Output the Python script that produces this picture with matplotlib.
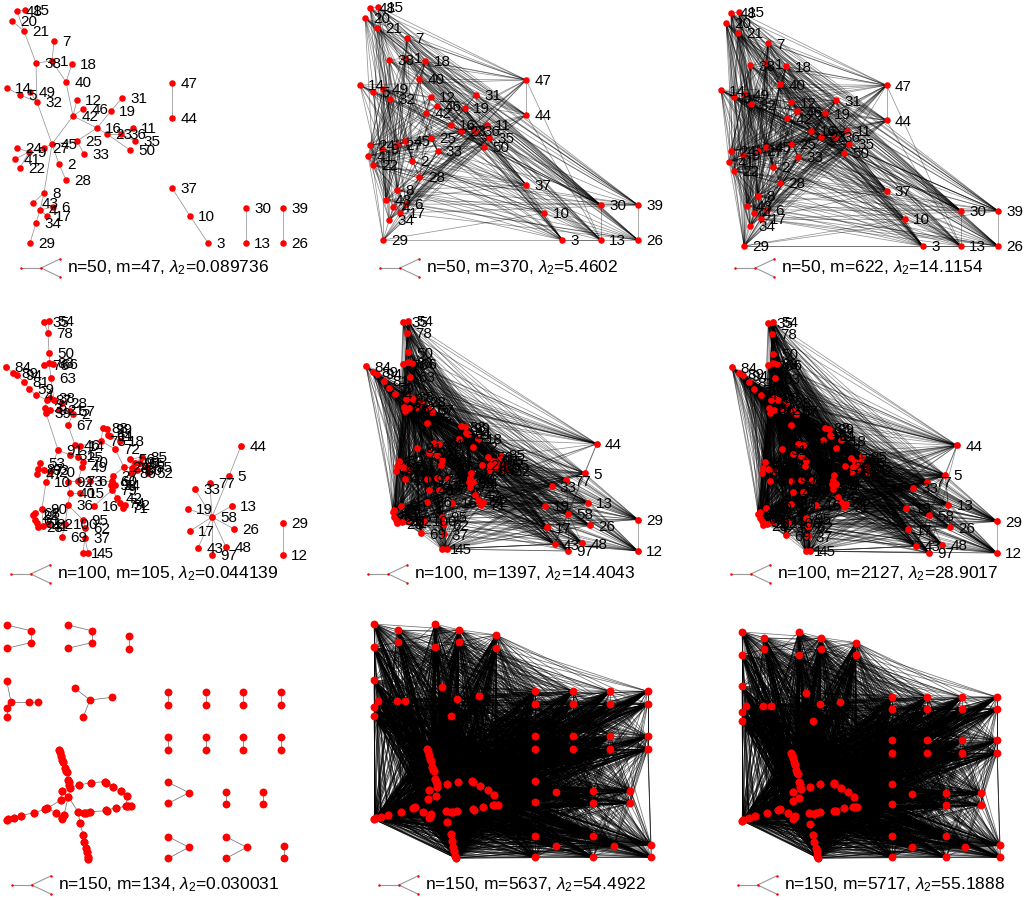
import numpy as np
import matplotlib
matplotlib.use("Agg")
import matplotlib.pyplot as plt
from matplotlib.collections import LineCollection
from matplotlib.lines import Line2D
from matplotlib.transforms import IdentityTransform

plt.rcParams['font.family'] = ['Liberation Sans', 'DejaVu Sans']
plt.rcParams['mathtext.fontset'] = 'custom'
plt.rcParams['mathtext.rm'] = 'Liberation Sans'
plt.rcParams['mathtext.it'] = 'Liberation Sans:italic'

FIG_W, FIG_H = 1024, 900

# ---------------- row 1 : n=50, layout (pixels)
r1_labels = [48, 15, 20, 21, 7, 38, 1, 18, 40, 14, 5, 49, 32, 12, 46, 42, 31, 19, 16, 11,
             23, 36, 35, 50, 25, 45, 27, 24, 9, 41, 22, 33, 2, 28, 8, 43, 4, 6, 17, 34,
             29, 47, 44, 37, 10, 3, 30, 13, 39, 26]
r1_x = [17, 25, 12, 24, 54, 36, 52, 72, 66, 7, 20, 30, 37, 77, 83, 73, 122, 111, 97, 133,
        107, 121, 135, 130, 77, 52, 44, 17, 29, 15, 20, 84, 59, 66, 44, 33, 40, 53, 47, 36,
        30, 172, 172, 172, 190, 208, 246, 246, 283, 283]
r1_y = [11, 10, 21, 31, 41, 63, 61, 64, 82, 88, 95, 92, 102, 100, 109, 116, 98, 111, 128, 128,
        134, 134, 141, 150, 141, 144, 148, 148, 152, 159, 168, 154, 164, 180, 193, 203, 210, 207, 216, 223,
        243, 83, 118, 188, 216, 243, 208, 243, 208, 243]
r1_edges = [(48, 21), (15, 48), (20, 21), (21, 38), (38, 32), (14, 5), (5, 32), (49, 32), (32, 45),
            (7, 1), (1, 40), (18, 40), (40, 42), (12, 42), (46, 42), (42, 45), (42, 16), (16, 19),
            (19, 31), (16, 23), (23, 36), (36, 11), (36, 35), (23, 50), (45, 25), (25, 33), (45, 2),
            (2, 28), (45, 27), (27, 9), (9, 24), (9, 41), (9, 22), (45, 8), (8, 43), (8, 4), (4, 6),
            (4, 17), (4, 34), (34, 29), (25, 16), (1, 38), (47, 44), (37, 10), (10, 3), (30, 13),
            (39, 26)]

# ---------------- row 2 : n=100
r2_labels = [35, 54, 78, 50, 76, 83, 66, 63,
             84, 89, 94, 81, 59, 4,
             8, 38, 7, 28, 3, 39, 9, 21, 57, 2,
             67,
             88, 99, 64, 11, 75, 18, 72,
             24, 56, 96, 85, 80, 30, 65, 55, 86, 52,
             27, 60, 98, 34, 79, 42, 74, 32, 71,
             16,
             91, 46, 14, 31, 25, 70, 49, 53, 87, 47, 93, 20, 10, 92, 73, 6, 40, 15,
             36, 90, 68, 22, 61, 51, 23, 41, 82, 100, 95, 62, 69, 37, 1, 45,
             58, 44, 5, 77, 33, 13, 26, 48, 97, 43, 17, 19, 29, 12]
r2_x = [44, 49, 48, 49, 44, 49, 53, 51,
        6, 13, 17, 24, 29, 36,
        47, 50, 54, 62, 45, 46, 50, 59, 70, 73,
        68,
        103, 107, 108, 110, 101, 120, 115,
        124, 130, 135, 142, 132, 137, 140, 147, 131, 148,
        113, 112, 111, 115, 112, 117, 120, 125, 123,
        94,
        58, 75, 80, 70, 78, 83, 82, 40, 38, 37, 44, 50, 46, 68, 78, 90, 70, 80,
        68, 42, 35, 33, 35, 37, 38, 43, 48, 65, 83, 85, 62, 85, 83, 88,
        212, 241, 229, 210, 195, 232, 234, 226, 212, 198, 190, 188, 283, 283]
r2_y = [322, 321, 333, 353, 365, 363, 364, 378,
        367, 373, 375, 382, 389, 395,
        400, 398, 400, 403, 408, 413, 410, 410, 411, 414,
        425,
        428, 429, 435, 436, 441, 441, 449,
        467, 459, 463, 457, 468, 470, 463, 467, 473, 473,
        476, 481, 485, 485, 490, 498, 503, 505, 508,
        506,
        450, 445, 446, 455, 457, 462, 467, 463, 469, 474, 470, 472, 482, 482, 481, 481, 493, 493,
        505, 509, 513, 515, 520, 523, 527, 526, 524, 524, 520, 528, 537, 538, 553, 553,
        517, 446, 476, 483, 489, 506, 529, 547, 555, 548, 531, 509, 523, 555]
r2_edges = [(35, 78), (54, 78), (78, 50), (50, 83), (76, 83), (66, 83), (83, 63), (63, 7),
            (84, 89), (89, 94), (94, 81), (81, 59), (59, 4), (4, 8),
            (8, 38), (38, 7), (7, 28), (8, 3), (3, 39), (3, 9), (28, 21), (21, 57), (57, 2),
            (2, 67), (67, 46), (39, 91),
            (14, 75), (75, 88), (88, 99), (99, 64), (64, 11), (11, 18), (75, 72), (72, 24),
            (24, 80), (80, 56), (56, 96), (96, 85), (96, 65), (65, 30), (65, 55), (30, 86),
            (55, 52), (24, 27),
            (27, 60), (60, 98), (98, 34), (34, 79), (79, 42), (42, 74), (74, 32), (32, 71), (16, 79),
            (91, 20), (20, 93), (93, 53), (53, 87), (87, 47), (20, 10), (91, 31), (31, 25),
            (25, 14), (14, 46), (25, 70), (70, 49), (49, 73), (73, 92), (73, 6), (92, 40),
            (40, 15), (6, 60),
            (10, 90), (90, 68), (68, 22), (22, 61), (61, 51), (51, 23), (90, 41), (41, 82),
            (40, 36), (36, 100), (100, 69), (36, 95), (95, 62), (62, 37), (37, 1), (37, 45),
            (9, 39), (85, 56), (86, 80), (34, 27), (71, 74), (23, 41),
            (44, 5), (5, 58), (77, 58), (33, 58), (19, 58), (17, 58), (43, 58), (97, 58),
            (48, 58), (26, 58), (13, 58), (29, 12)]

# ---------------- row 3 : n=150 (no labels)
r3_small_x = [6.7, 30.7, 30.7, 6.7, 67.7, 91.7, 91.7, 67.7, 129, 129,
              6.7, 11, 29.3, 37.7, 6.7, 6.7, 90, 75, 112, 83.3,
              168.3, 168.3, 205.7, 205.7, 243.3, 243.3, 280.7, 280.7,
              168.3, 168.3, 205.7, 205.7, 243.3, 243.3, 280.7, 280.7,
              168.3, 189, 168.3, 226, 226, 263.3, 263.3,
              168.3, 189, 168.3, 226, 246.7, 226, 284, 284]
r3_small_y = [625, 630.7, 642.7, 648.3, 625, 630.7, 642.7, 648.3, 636, 648.7,
              681, 701.7, 701.7, 701.7, 707.7, 716.7, 700, 688.3, 697.3, 716.7,
              692.3, 705, 692.3, 705, 692.3, 705, 692.3, 705,
              737.3, 750, 737.3, 750, 737.3, 750, 737.3, 750,
              782.3, 792.7, 803.3, 791.7, 804, 791.7, 804,
              836.7, 847.3, 858.3, 836.7, 847.3, 858.3, 846, 858.3]
r3_small_edges = [(0, 1), (1, 2), (2, 3), (4, 5), (5, 6), (6, 7), (8, 9),
                  (10, 11), (11, 12), (12, 13), (11, 14), (14, 15), (16, 17), (16, 18), (16, 19),
                  (20, 21), (22, 23), (24, 25), (26, 27), (28, 29), (30, 31), (32, 33), (34, 35),
                  (36, 37), (37, 38), (39, 40), (41, 42), (43, 44), (44, 45), (46, 47), (47, 48),
                  (49, 50)]
# big component: visible spots, and how many nodes sit on each spot
r3_big_x = [59.3, 60.3, 61.3, 62.3, 63.3, 65, 66, 66.7, 67.7, 68.7, 69.3, 70,
            68.3, 61.7, 61,
            79.3, 90.7, 105.3, 106, 113.3, 121, 127.3, 126, 128.3, 130.7, 116, 106, 107.3,
            90, 86, 84, 78.3,
            47.3, 45.3, 34, 20.7, 14, 8.3, 6.7,
            56, 64, 62.3, 61.7,
            80, 83.3, 84.3, 86, 87, 87.7, 88.3]
r3_big_y = [750, 752.3, 755.7, 760, 762.3, 768.3, 771, 772.3, 780, 782.3, 785, 787.7,
            796.7, 791, 800,
            785, 782.7, 781.7, 782.7, 786.7, 791, 796, 805.7, 806, 806, 807.7, 810.3, 810.7,
            811.7, 812.7, 813, 812.3,
            808.3, 809.3, 812.7, 815.7, 817.7, 819.3, 820.3,
            812.7, 815, 817.7, 818.7,
            823.3, 835, 842.3, 848.3, 851.7, 856.7, 859]
r3_big_mult = [2, 2, 2, 2, 2, 2, 2, 2, 2, 2, 2, 2,
               2, 2, 2,
               2, 2, 2, 2, 2, 2, 2, 2, 2, 2, 2, 2, 2,
               2, 2, 2, 2,
               2, 2, 2, 2, 2, 2, 2,
               2, 2, 2, 1,
               2, 2, 2, 2, 2, 2, 2]
r3_big_paths = [[0, 1, 2, 3, 4, 5, 6, 7, 8, 9, 10, 11],
                [11, 12],
                [11, 15, 16, 17, 18, 19, 20, 21, 22, 23, 24, 25, 26, 27, 28, 29, 30, 31, 12],
                [12, 13, 14, 32, 33, 34, 35, 36, 37, 38],
                [31, 43, 44, 45, 46, 47, 48, 49],
                [12, 40, 41, 42],
                [39, 32], [22, 24], [17, 19], [29, 31]]

# ---------------- captions
n_vals = [50, 100, 150]
m_vals = [[47, 370, 622], [105, 1397, 2127], [134, 5637, 5717]]
lam2_vals = [["0.089736", "5.4602", "14.1154"],
             ["0.044139", "14.4043", "28.9017"],
             ["0.030031", "54.4922", "55.1888"]]

# where the node extents sit in the figure (pixels: x0, x1, y0, y1); None = as read
panel_boxes = [[None, (360, 638, 7, 240), (721, 998, 12, 246)],
               [None, (366, 638, 321, 551), (732, 997, 322, 553)],
               [None, (374, 651, 624, 858), (742, 1000, 632, 858)]]
caption_y = [268, 574, 885]
node_size = [22, 24, 32]
edge_alpha = [0.42, 0.42, 0.55]


def labelled_graph(labels, xs, ys, edges):
    idx = {lab: k for k, lab in enumerate(labels)}
    e = [(idx[a], idx[b]) for a, b in edges]
    return np.array(xs, float), np.array(ys, float), [str(l) for l in labels], e


def row3_graph():
    xs = list(r3_small_x)
    ys = list(r3_small_y)
    edges = list(r3_small_edges)
    off = len(xs)
    xs += r3_big_x
    ys += r3_big_y
    for path in r3_big_paths:
        for a, b in zip(path[:-1], path[1:]):
            edges.append((off + a, off + b))
    # stacked nodes on the same spot hang on the first one
    for k, mult in enumerate(r3_big_mult):
        for _ in range(mult - 1):
            xs.append(r3_big_x[k])
            ys.append(r3_big_y[k])
            edges.append((off + k, len(xs) - 1))
    return np.array(xs, float), np.array(ys, float), None, edges


def add_edges_fiedler(n, edges, m_total, batch=20):
    # grow the graph by joining the pairs furthest apart on the Fiedler vector
    A = np.zeros((n, n))
    for i, j in edges:
        A[i, j] = A[j, i] = 1
    iu = np.triu_indices(n, 1)
    added = []
    need = m_total - len(edges)
    while len(added) < need:
        L = np.diag(A.sum(axis=1)) - A
        vals, vecs = np.linalg.eigh(L)
        f = vecs[:, 1]
        score = (f[:, None] - f[None, :]) ** 2
        score[A > 0] = -1.0
        s = score[iu]
        k = min(batch, need - len(added))
        for b in np.argsort(-s, kind='stable')[:k]:
            i, j = iu[0][b], iu[1][b]
            A[i, j] = A[j, i] = 1
            added.append((i, j))
    return added


graphs = [labelled_graph(r1_labels, r1_x, r1_y, r1_edges),
          labelled_graph(r2_labels, r2_x, r2_y, r2_edges),
          row3_graph()]

fig = plt.figure(figsize=(FIG_W / 100, FIG_H / 100), dpi=100)
renderer = fig.canvas.get_renderer()

for r, (x, y, labels, base_edges) in enumerate(graphs):
    n = len(x)
    extra = add_edges_fiedler(n, base_edges, max(m_vals[r]))
    x0l, x1l, y0l, y1l = x.min(), x.max(), y.min(), y.max()
    for c in range(3):
        m = m_vals[r][c]
        edges = (base_edges + extra)[:m]
        box = panel_boxes[r][c] or (x0l, x1l, y0l, y1l)
        bx0, bx1, by0, by1 = box
        ax = fig.add_axes([bx0 / FIG_W, 1 - by1 / FIG_H,
                           (bx1 - bx0) / FIG_W, (by1 - by0) / FIG_H])
        ax.set_xlim(x0l, x1l)
        ax.set_ylim(y1l, y0l)
        ax.axis('off')

        segs = [[(x[i], y[i]), (x[j], y[j])] for i, j in edges]
        ax.add_collection(LineCollection(segs, colors=[(0, 0, 0, edge_alpha[r])],
                                         linewidths=0.55, clip_on=False, zorder=1))
        ax.scatter(x, y, s=node_size[r], c='#ff0000', linewidths=0,
                   zorder=3, clip_on=False)
        if labels is not None:
            for xi, yi, lab in zip(x, y, labels):
                ax.annotate(lab, (xi, yi), xytext=(6, -1), textcoords='offset points',
                            fontsize=11, va='center', ha='left', zorder=4,
                            annotation_clip=False)

        # caption with the little tree glyph in front of it
        cx = (bx0 + bx1) / 2
        cy = caption_y[r]
        txt = f"n={n_vals[r]}, m={m}, $\\lambda_2$={lam2_vals[r][c]}"
        t = fig.text(0, 1 - cy / FIG_H, txt, fontsize=12.5, va='center', ha='left')
        tw = t.get_window_extent(renderer).width
        total = 39 + 7 + tw
        gx = cx - total / 2
        t.set_x((gx + 46) / FIG_W)
        gy = FIG_H - cy
        for xs_, ys_ in [([gx, gx + 20], [gy, gy]),
                         ([gx + 20, gx + 39], [gy, gy + 9]),
                         ([gx + 20, gx + 39], [gy, gy - 9])]:
            fig.add_artist(Line2D(xs_, ys_, color='#999999', lw=0.8,
                                  transform=IdentityTransform()))
        fig.add_artist(Line2D([gx, gx + 20, gx + 39, gx + 39], [gy, gy, gy + 9, gy - 9],
                              linestyle='none', marker='o', markersize=1.8,
                              color='#ff0000', markeredgewidth=0,
                              transform=IdentityTransform()))

fig.savefig('out.png', dpi=100)
